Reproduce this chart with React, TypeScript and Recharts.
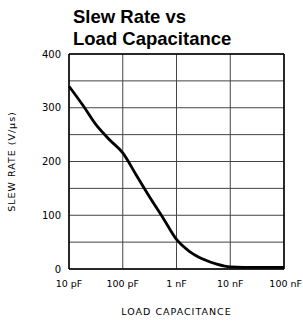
import { LineChart, Line, XAxis, YAxis, CartesianGrid, ReferenceLine, Label } from "recharts"

// load capacitance in pF
const capacitance = [10, 18, 32, 56, 100, 178, 316, 562, 1000, 1780, 3160, 5620, 10000, 31600, 100000]
// slew rate in V/us
const slewRate = [340, 305, 268, 241, 216, 175, 134, 95, 55, 32, 18, 9, 4, 3, 3]

const xTicks = [10, 100, 1000, 10000, 100000]
const xTickLabels = ["10 pF", "100 pF", "1 nF", "10 nF", "100 nF"]
const yTicks = [0, 50, 100, 150, 200, 250, 300, 350, 400]

const data = capacitance.map((c, i) => ({ c, sr: slewRate[i] }))

const tickFont = { fontFamily: "DejaVu Sans", fontSize: 9.5, fill: "#000" }

function XTick(props: any) {
  const { x, y, payload } = props
  const i = xTicks.indexOf(payload.value)
  const last = i === xTicks.length - 1
  return (
    <text x={last ? x + 18 : x} y={y + 10} textAnchor={last ? "end" : "middle"} {...tickFont}>
      {xTickLabels[i]}
    </text>
  )
}

export default function App() {
  return (
    <div style={{ position: "relative", width: 303, height: 322, background: "#fff" }}>
      <style>{"html,body{margin:0;padding:0;overflow:hidden}"}</style>
      <div
        style={{
          position: "absolute",
          left: 73,
          top: 6,
          fontFamily: "Liberation Sans, Arial, sans-serif",
          fontWeight: "bold",
          fontSize: 18.5,
          lineHeight: "22px",
          color: "#000",
        }}
      >
        Slew Rate vs
        <br />
        Load Capacitance
      </div>
      <LineChart width={303} height={322} data={data} margin={{ top: 54, right: 19, left: 0, bottom: 33 }}>
        <CartesianGrid stroke="#444" strokeWidth={1} />
        <XAxis
          dataKey="c"
          type="number"
          scale="log"
          domain={[10, 100000]}
          ticks={xTicks}
          tick={<XTick />}
          tickLine={false}
          axisLine={false}
          height={20}
          interval={0}
        >
          <Label value="LOAD CAPACITANCE" position="bottom" offset={19} style={{ ...tickFont, fontSize: 9.5, letterSpacing: 1 }} />
        </XAxis>
        <YAxis
          type="number"
          domain={[0, 400]}
          ticks={yTicks}
          tickFormatter={(v: number) => (v % 100 === 0 ? String(v) : "")}
          tick={{ ...tickFont, fontSize: 10 }}
          tickLine={false}
          axisLine={false}
          width={69}
          interval={0}
        >
          <Label value="SLEW RATE (V/µs)" angle={-90} position="insideLeft" offset={12} style={{ ...tickFont, fontSize: 9.5, letterSpacing: 1, textAnchor: "middle" }} />
        </YAxis>
        <ReferenceLine x={10} stroke="#000" strokeWidth={1.5} />
        <ReferenceLine x={100000} stroke="#000" strokeWidth={1.5} />
        <ReferenceLine y={0} stroke="#000" strokeWidth={1.5} />
        <ReferenceLine y={400} stroke="#000" strokeWidth={1.5} />
        <Line type="monotone" dataKey="sr" stroke="#000" strokeWidth={2.8} dot={false} isAnimationActive={false} />
      </LineChart>
    </div>
  )
}
